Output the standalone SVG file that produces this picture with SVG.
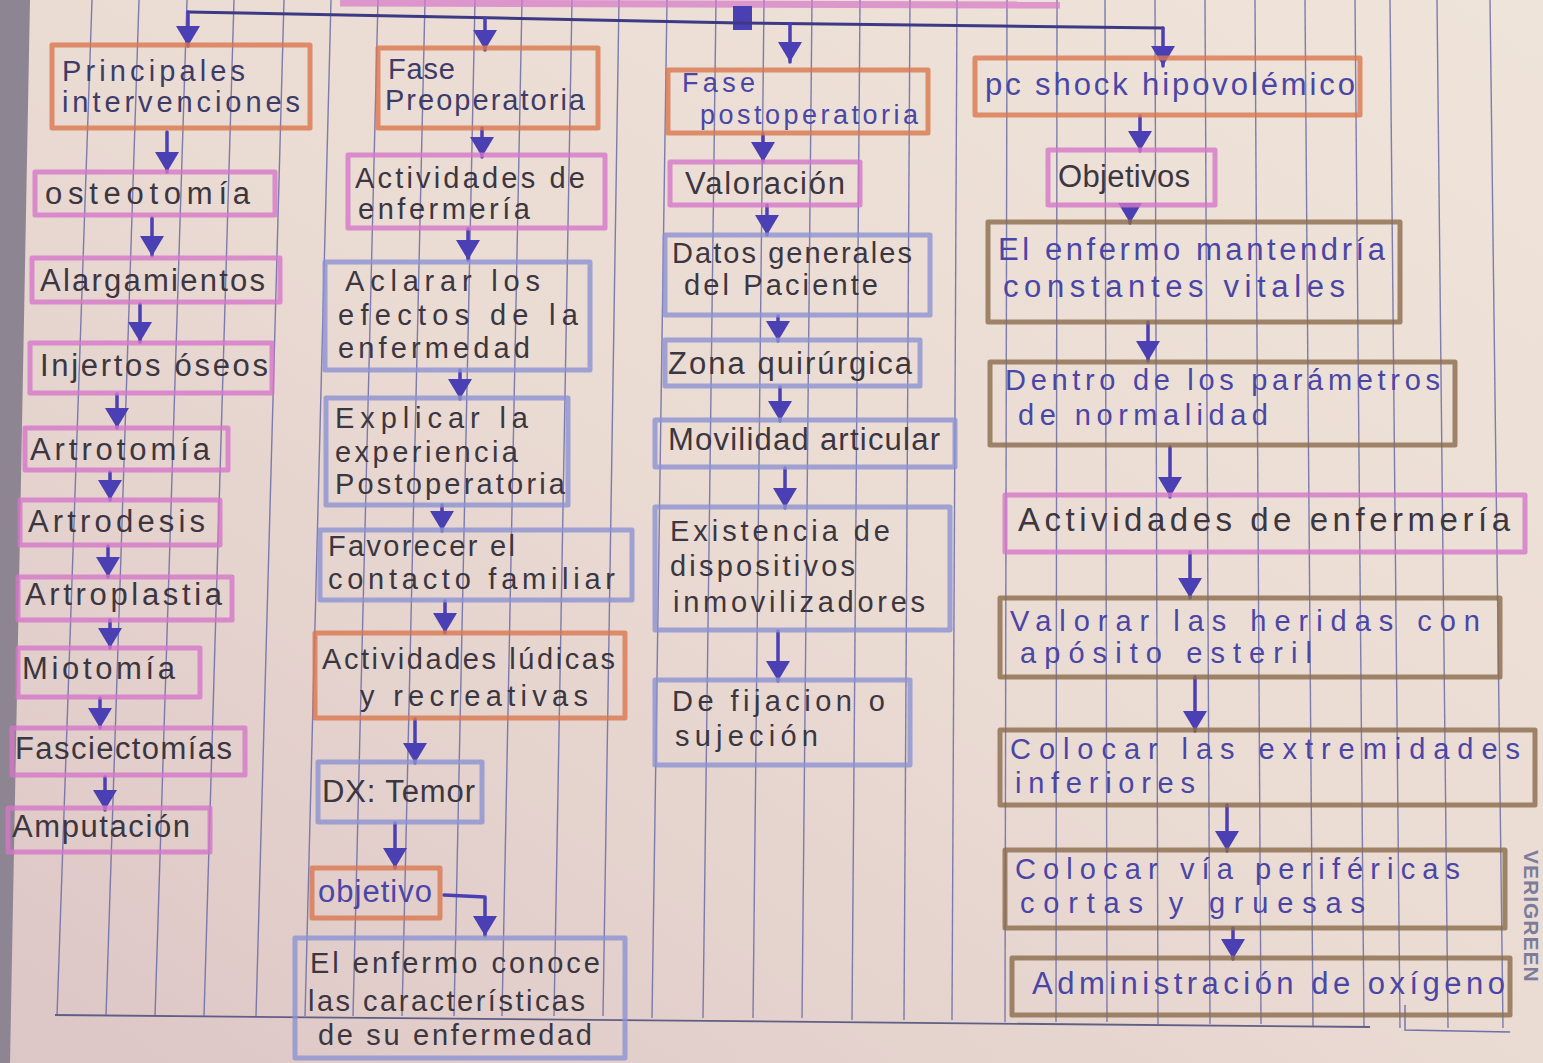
<svg xmlns="http://www.w3.org/2000/svg" width="1543" height="1063" viewBox="0 0 1543 1063">
<style>
.box{fill:none;stroke-width:5;stroke-linejoin:round;stroke-opacity:.8}
.or{stroke:#d9774f}
.pk{stroke:#d577c8}
.bl{stroke:#8c92d2}
.br{stroke:#8b6c4c}
.t{font-family:"Liberation Sans",Arial,sans-serif;font-size:29px;fill:#3b3640}
.s{font-size:31px}
.tb{fill:#4a46a6}
.tn{fill:#3d3c68}
.rule{stroke:#6a6ba6;stroke-width:1.4;stroke-opacity:.85}
.con{fill:none;stroke:#4a3fb3;stroke-width:3.5;stroke-linecap:round;stroke-linejoin:round}
</style>
<defs>
<linearGradient id="paper" x1="1" y1="0" x2="0" y2="1">
<stop offset="0" stop-color="#efe4da"/>
<stop offset=".5" stop-color="#eadbd3"/>
<stop offset="1" stop-color="#ddc6c6"/>
</linearGradient>
<marker id="ah" viewBox="0 0 10 12" refX="10" refY="6" markerWidth="20" markerHeight="24" markerUnits="userSpaceOnUse" orient="auto">
<path d="M0,0 L10,6 L0,12 z" fill="#4a3fb3"/>
</marker>
</defs>

<!-- paper -->
<rect x="0" y="0" width="1543" height="1063" fill="url(#paper)"/>
<polygon points="0,0 30,0 10,1063 0,1063" fill="#8d8592"/>

<!-- ruled lines -->
<g id="ruling">
<line class="rule" x1="92" y1="0" x2="57" y2="1016"/>
<line class="rule" x1="139" y1="0" x2="106" y2="1016"/>
<line class="rule" x1="187" y1="0" x2="155" y2="1016"/>
<line class="rule" x1="234" y1="0" x2="204" y2="1016"/>
<line class="rule" x1="284" y1="0" x2="256" y2="1016"/>
<line class="rule" x1="331" y1="0" x2="305" y2="1016"/>
<line class="rule" x1="378" y1="0" x2="353" y2="1016"/>
<line class="rule" x1="425" y1="0" x2="402" y2="1016"/>
<line class="rule" x1="475" y1="0" x2="454" y2="1016"/>
<line class="rule" x1="522" y1="0" x2="502" y2="1016"/>
<line class="rule" x1="572" y1="0" x2="554" y2="1016"/>
<line class="rule" x1="619" y1="0" x2="603" y2="1016"/>
<line class="rule" x1="667" y1="0" x2="652" y2="1018"/>
<line class="rule" x1="716" y1="0" x2="703" y2="1018"/>
<line class="rule" x1="764" y1="0" x2="753" y2="1018"/>
<line class="rule" x1="812" y1="0" x2="802" y2="1018"/>
<line class="rule" x1="860" y1="0" x2="852" y2="1020"/>
<line class="rule" x1="910" y1="0" x2="904" y2="1020"/>
<line class="rule" x1="957" y1="0" x2="952" y2="1020"/>
<line class="rule" x1="1007" y1="0" x2="1005" y2="1022"/>
<line class="rule" x1="1057" y1="0" x2="1056" y2="1022"/>
<line class="rule" x1="1105" y1="0" x2="1107" y2="1022"/>
<line class="rule" x1="1155" y1="0" x2="1158" y2="1024"/>
<line class="rule" x1="1205" y1="0" x2="1210" y2="1024"/>
<line class="rule" x1="1255" y1="0" x2="1261" y2="1024"/>
<line class="rule" x1="1305" y1="0" x2="1313" y2="1026"/>
<line class="rule" x1="1355" y1="0" x2="1364" y2="1026"/>
<line class="rule" x1="1390" y1="0" x2="1400" y2="1028"/>
<line class="rule" x1="1437" y1="0" x2="1448" y2="1028"/>
<line class="rule" x1="1490" y1="0" x2="1503" y2="1028"/>
<line x1="55" y1="1015" x2="1370" y2="1027" stroke="#5f5f86" stroke-width="1.8"/>
<polyline points="1405,1005 1405,1030 1510,1032" fill="none" stroke="#6f70aa" stroke-width="1.4"/>
</g>

<!-- title box remnant -->
<g id="title">
<line x1="340" y1="3" x2="1060" y2="5" stroke="#d577c8" stroke-width="7" stroke-opacity=".7"/>
</g>

<!-- connectors -->
<g id="connectors">
<rect x="733" y="6" width="19" height="24" fill="#4a3fb3"/>
<polyline class="con" style="stroke:#3d3a85;stroke-width:3" points="188,12 500,18 740,23 1000,26 1163,28"/>
<line class="con" x1="188" y1="12" x2="188" y2="46" marker-end="url(#ah)"/>
<line class="con" x1="485" y1="18" x2="485" y2="50" marker-end="url(#ah)"/>
<line class="con" x1="790" y1="24" x2="790" y2="62" marker-end="url(#ah)"/>
<line class="con" x1="1163" y1="28" x2="1163" y2="66" marker-end="url(#ah)"/>

<line class="con" x1="167" y1="132" x2="167" y2="172" marker-end="url(#ah)"/>
<line class="con" x1="152" y1="218" x2="152" y2="256" marker-end="url(#ah)"/>
<line class="con" x1="140" y1="304" x2="140" y2="342" marker-end="url(#ah)"/>
<line class="con" x1="117" y1="394" x2="117" y2="428" marker-end="url(#ah)"/>
<line class="con" x1="110" y1="472" x2="110" y2="500" marker-end="url(#ah)"/>
<line class="con" x1="108" y1="546" x2="108" y2="577" marker-end="url(#ah)"/>
<line class="con" x1="110" y1="620" x2="110" y2="648" marker-end="url(#ah)"/>
<line class="con" x1="100" y1="698" x2="100" y2="728" marker-end="url(#ah)"/>
<line class="con" x1="105" y1="777" x2="105" y2="810" marker-end="url(#ah)"/>

<line class="con" x1="482" y1="128" x2="482" y2="157" marker-end="url(#ah)"/>
<line class="con" x1="468" y1="229" x2="468" y2="260" marker-end="url(#ah)"/>
<line class="con" x1="460" y1="370" x2="460" y2="399" marker-end="url(#ah)"/>
<line class="con" x1="442" y1="505" x2="442" y2="531" marker-end="url(#ah)"/>
<line class="con" x1="445" y1="601" x2="445" y2="633" marker-end="url(#ah)"/>
<line class="con" x1="415" y1="719" x2="415" y2="763" marker-end="url(#ah)"/>
<line class="con" x1="395" y1="823" x2="395" y2="868" marker-end="url(#ah)"/>
<polyline class="con" points="444,895 485,897 485,936" marker-end="url(#ah)"/>

<line class="con" x1="763" y1="134" x2="763" y2="162" marker-end="url(#ah)"/>
<line class="con" x1="767" y1="205" x2="767" y2="235" marker-end="url(#ah)"/>
<line class="con" x1="778" y1="316" x2="778" y2="341" marker-end="url(#ah)"/>
<line class="con" x1="780" y1="387" x2="780" y2="421" marker-end="url(#ah)"/>
<line class="con" x1="785" y1="468" x2="785" y2="508" marker-end="url(#ah)"/>
<line class="con" x1="778" y1="631" x2="778" y2="681" marker-end="url(#ah)"/>

<line class="con" x1="1140" y1="116" x2="1140" y2="151" marker-end="url(#ah)"/>
<line class="con" x1="1130" y1="205" x2="1130" y2="223" marker-end="url(#ah)"/>
<line class="con" x1="1148" y1="322" x2="1148" y2="361" marker-end="url(#ah)"/>
<line class="con" x1="1170" y1="447" x2="1170" y2="497" marker-end="url(#ah)"/>
<line class="con" x1="1190" y1="552" x2="1190" y2="598" marker-end="url(#ah)"/>
<line class="con" x1="1195" y1="677" x2="1195" y2="731" marker-end="url(#ah)"/>
<line class="con" x1="1227" y1="805" x2="1227" y2="851" marker-end="url(#ah)"/>
<line class="con" x1="1233" y1="928" x2="1233" y2="959" marker-end="url(#ah)"/>
</g>

<!-- column 1 -->
<g id="principales">
<rect class="box or" x="52" y="45" width="258" height="83"/>
<text class="t tn" x="62" y="81" textLength="183" lengthAdjust="spacing">Principales</text>
<text class="t tn" x="62" y="112" textLength="238" lengthAdjust="spacing">intervenciones</text>
</g>
<g id="osteotomia">
<rect class="box pk" x="35" y="172" width="240" height="43"/>
<text class="t s" x="45" y="204" textLength="205" lengthAdjust="spacing">osteotomía</text>
</g>
<g id="alargamientos">
<rect class="box pk" x="32" y="258" width="248" height="44"/>
<text class="t s" x="40" y="291" textLength="225" lengthAdjust="spacing">Alargamientos</text>
</g>
<g id="injertos">
<rect class="box pk" x="30" y="343" width="242" height="50"/>
<text class="t s" x="40" y="376" textLength="228" lengthAdjust="spacing">Injertos óseos</text>
</g>
<g id="artrotomia">
<rect class="box pk" x="25" y="428" width="203" height="42"/>
<text class="t s" x="30" y="460" textLength="180" lengthAdjust="spacing">Artrotomía</text>
</g>
<g id="artrodesis">
<rect class="box pk" x="20" y="500" width="200" height="45"/>
<text class="t s" x="28" y="532" textLength="177" lengthAdjust="spacing">Artrodesis</text>
</g>
<g id="artroplastia">
<rect class="box pk" x="18" y="577" width="214" height="43"/>
<text class="t s" x="25" y="605" textLength="197" lengthAdjust="spacing">Artroplastia</text>
</g>
<g id="miotomia">
<rect class="box pk" x="18" y="648" width="182" height="49"/>
<text class="t s" x="22" y="679" textLength="153" lengthAdjust="spacing">Miotomía</text>
</g>
<g id="fasciectomias">
<rect class="box pk" x="12" y="728" width="233" height="47"/>
<text class="t s" x="15" y="759" textLength="217" lengthAdjust="spacing">Fasciectomías</text>
</g>
<g id="amputacion">
<rect class="box pk" x="8" y="808" width="202" height="44"/>
<text class="t s" x="12" y="837" textLength="178" lengthAdjust="spacing">Amputación</text>
</g>

<!-- column 2 -->
<g id="fase-pre">
<rect class="box or" x="378" y="48" width="220" height="80"/>
<text class="t tn" x="388" y="79" textLength="67" lengthAdjust="spacing">Fase</text>
<text class="t tn" x="385" y="110" textLength="200" lengthAdjust="spacing">Preoperatoria</text>
</g>
<g id="act-enf-1">
<rect class="box pk" x="348" y="155" width="257" height="73"/>
<text class="t" x="355" y="188" textLength="230" lengthAdjust="spacing">Actividades de</text>
<text class="t" x="358" y="219" textLength="172" lengthAdjust="spacing">enfermería</text>
</g>
<g id="aclarar">
<rect class="box bl" x="325" y="262" width="265" height="108"/>
<text class="t" x="345" y="291" textLength="195" lengthAdjust="spacing">Aclarar   los</text>
<text class="t" x="338" y="325" textLength="240" lengthAdjust="spacing">efectos  de  la</text>
<text class="t" x="338" y="358" textLength="192" lengthAdjust="spacing">enfermedad</text>
</g>
<g id="explicar">
<rect class="box bl" x="326" y="398" width="242" height="107"/>
<text class="t" x="335" y="428" textLength="193" lengthAdjust="spacing">Explicar   la</text>
<text class="t" x="335" y="462" textLength="183" lengthAdjust="spacing">experiencia</text>
<text class="t" x="335" y="494" textLength="230" lengthAdjust="spacing">Postoperatoria</text>
</g>
<g id="favorecer">
<rect class="box bl" x="320" y="530" width="312" height="70"/>
<text class="t" x="328" y="556" textLength="187" lengthAdjust="spacing">Favorecer el</text>
<text class="t" x="328" y="589" textLength="287" lengthAdjust="spacing">contacto  familiar</text>
</g>
<g id="ludicas">
<rect class="box or" x="315" y="633" width="310" height="85"/>
<text class="t" x="322" y="669" textLength="293" lengthAdjust="spacing">Actividades lúdicas</text>
<text class="t" x="360" y="706" textLength="228" lengthAdjust="spacing">y recreativas</text>
</g>
<g id="dx-temor">
<rect class="box bl" x="318" y="762" width="164" height="60"/>
<text class="t s" x="322" y="802" textLength="153" lengthAdjust="spacing">DX: Temor</text>
</g>
<g id="objetivo">
<rect class="box or" x="312" y="868" width="128" height="50"/>
<text class="t s tb" x="318" y="902" textLength="114" lengthAdjust="spacing">objetivo</text>
</g>
<g id="conoce">
<rect class="box bl" x="295" y="938" width="330" height="120"/>
<text class="t" x="310" y="973" textLength="290" lengthAdjust="spacing">El enfermo conoce</text>
<text class="t" x="308" y="1011" textLength="277" lengthAdjust="spacing">las características</text>
<text class="t" x="318" y="1045" textLength="274" lengthAdjust="spacing">de su enfermedad</text>
</g>

<!-- column 3 -->
<g id="fase-post">
<rect class="box or" x="668" y="70" width="260" height="63"/>
<text class="t tb" style="font-size:27px" x="682" y="92" textLength="73" lengthAdjust="spacing">Fase</text>
<text class="t tb" style="font-size:27px" x="700" y="124" textLength="218" lengthAdjust="spacing">postoperatoria</text>
</g>
<g id="valoracion">
<rect class="box pk" x="670" y="162" width="190" height="43"/>
<text class="t s" x="685" y="194" textLength="160" lengthAdjust="spacing">Valoración</text>
</g>
<g id="datos">
<rect class="box bl" x="665" y="235" width="265" height="80"/>
<text class="t" x="672" y="263" textLength="240" lengthAdjust="spacing">Datos generales</text>
<text class="t" x="684" y="295" textLength="194" lengthAdjust="spacing">del Paciente</text>
</g>
<g id="zona">
<rect class="box bl" x="665" y="340" width="255" height="46"/>
<text class="t s" x="668" y="374" textLength="244" lengthAdjust="spacing">Zona quirúrgica</text>
</g>
<g id="movilidad">
<rect class="box bl" x="655" y="420" width="300" height="47"/>
<text class="t s" x="668" y="450" textLength="272" lengthAdjust="spacing">Movilidad articular</text>
</g>
<g id="existencia">
<rect class="box bl" x="655" y="507" width="295" height="123"/>
<text class="t" x="670" y="541" textLength="220" lengthAdjust="spacing">Existencia de</text>
<text class="t" x="670" y="576" textLength="185" lengthAdjust="spacing">dispositivos</text>
<text class="t" x="673" y="612" textLength="252" lengthAdjust="spacing">inmovilizadores</text>
</g>
<g id="fijacion">
<rect class="box bl" x="655" y="680" width="255" height="85"/>
<text class="t" x="672" y="711" textLength="213" lengthAdjust="spacing">De fijacion o</text>
<text class="t" x="675" y="746" textLength="143" lengthAdjust="spacing">sujeción</text>
</g>

<!-- column 4 -->
<g id="pc-shock">
<rect class="box or" x="975" y="58" width="385" height="57"/>
<text class="t s tb" x="985" y="95" textLength="370" lengthAdjust="spacing">pc shock hipovolémico</text>
</g>
<g id="objetivos">
<rect class="box pk" x="1048" y="150" width="167" height="55"/>
<text class="t s" x="1058" y="187" textLength="132" lengthAdjust="spacing">Objetivos</text>
</g>
<g id="mantendria">
<rect class="box br" x="988" y="222" width="412" height="100"/>
<text class="t s tb" x="998" y="260" textLength="387" lengthAdjust="spacing">El enfermo mantendría</text>
<text class="t s tb" x="1003" y="297" textLength="342" lengthAdjust="spacing">constantes vitales</text>
</g>
<g id="dentro">
<rect class="box br" x="990" y="362" width="465" height="83"/>
<text class="t tb" x="1005" y="390" textLength="435" lengthAdjust="spacing">Dentro de los parámetros</text>
<text class="t tb" x="1018" y="425" textLength="250" lengthAdjust="spacing">de normalidad</text>
</g>
<g id="act-enf-2">
<rect class="box pk" x="1005" y="495" width="520" height="57"/>
<text class="t" style="font-size:33px" x="1018" y="531" textLength="492" lengthAdjust="spacing">Actividades de enfermería</text>
</g>
<g id="valorar">
<rect class="box br" x="1000" y="598" width="500" height="79"/>
<text class="t tb" x="1010" y="631" textLength="470" lengthAdjust="spacing">Valorar las heridas con</text>
<text class="t tb" x="1020" y="663" textLength="292" lengthAdjust="spacing">apósito esteril</text>
</g>
<g id="extremidades">
<rect class="box br" x="1000" y="730" width="535" height="75"/>
<text class="t tb" x="1010" y="759" textLength="510" lengthAdjust="spacing">Colocar las extremidades</text>
<text class="t tb" x="1015" y="793" textLength="180" lengthAdjust="spacing">inferiores</text>
</g>
<g id="via">
<rect class="box br" x="1005" y="850" width="500" height="78"/>
<text class="t tb" x="1015" y="879" textLength="445" lengthAdjust="spacing">Colocar vía periféricas</text>
<text class="t tb" x="1020" y="913" textLength="345" lengthAdjust="spacing">cortas y gruesas</text>
</g>
<g id="oxigeno">
<rect class="box br" x="1012" y="958" width="498" height="57"/>
<text class="t s tb" x="1032" y="994" textLength="473" lengthAdjust="spacing">Administración de oxígeno</text>
</g>

<!-- edge imprint -->
<text transform="translate(1524,850) rotate(90)" font-family="'Liberation Sans',Arial,sans-serif" font-size="21" font-weight="bold" fill="#7c7c9c" letter-spacing="1">VERIGREEN</text>
</svg>
